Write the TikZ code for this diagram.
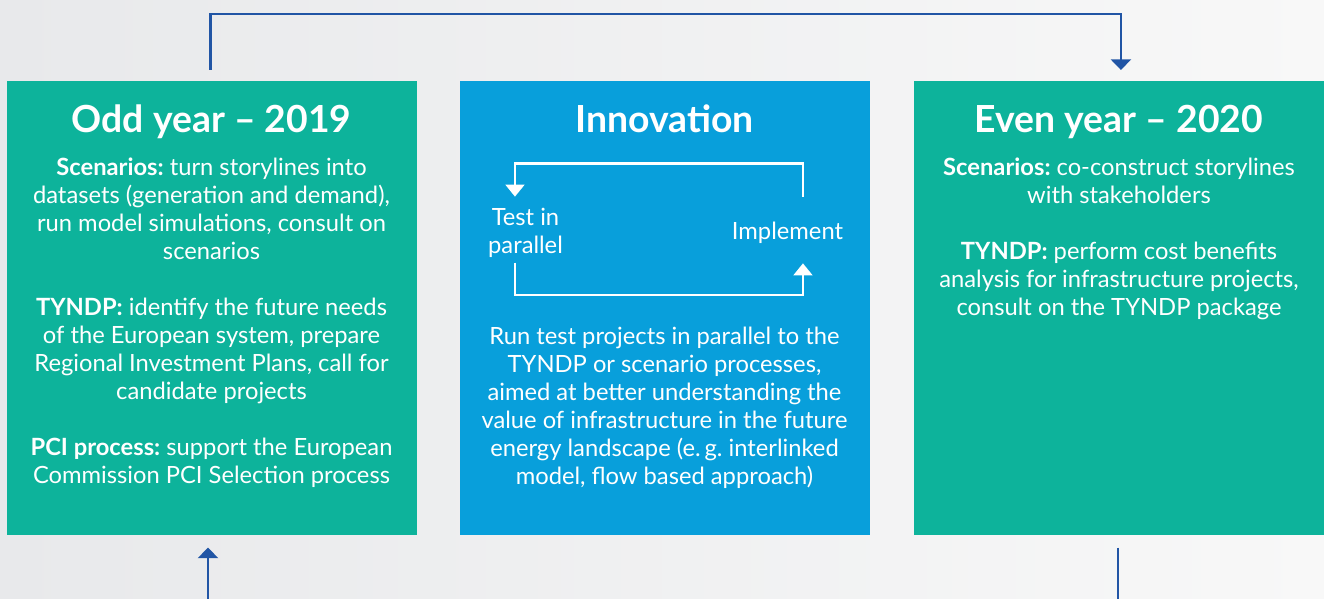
\documentclass[tikz,border=0pt]{standalone}
\usepackage{fontspec}
\setmainfont{Lato}
\frenchspacing
\usetikzlibrary{arrows.meta}
\definecolor{tealbox}{HTML}{0DB39B}
\definecolor{skybox}{HTML}{089FDB}
\definecolor{flowblue}{HTML}{2155A5}
\definecolor{bgleft}{HTML}{E8E9EB}
\definecolor{bgright}{HTML}{F8F8F8}
\begin{document}
\begin{tikzpicture}[x=0.75pt,y=-0.75pt,
  panel/.style={minimum width=307pt,minimum height=340.5pt,inner sep=0pt,anchor=north west},
  head/.style={white,anchor=base,font=\fontsize{28}{33}\selectfont\bfseries},
  body/.style={white,align=center,inner sep=0pt,anchor=north,font=\fontsize{17.8}{21}\selectfont},
  lab/.style={white,align=center,inner sep=0pt,font=\fontsize{17.8}{21}\selectfont},
  flow/.style={flowblue,line width=2pt,-{Triangle[width=15pt,length=8pt]}},
  cyc/.style={white,line width=2pt,-{Triangle[width=14pt,length=9pt]}}]
  \shade[left color=bgleft,right color=bgright] (0,0) rectangle (1324,599);
  \useasboundingbox (0,0) rectangle (1324,599);
  % the three panels
  \node[panel,fill=tealbox] (odd) at (7,81) {};
  \node[panel,fill=skybox] (inno) at (460,81) {};
  \node[panel,fill=tealbox] (even) at (914,81) {};
  \node[head] (oddhead) at (211.5,133) {Odd year – 2019};
  \node[head] (innohead) at (664.5,133) {Innovation};
  \node[head] (evenhead) at (1119,133) {Even year – 2020};
  \node[body] (oddtext) at (211.5,158) {\textbf{Scenarios:} turn storylines into\\datasets (generation and demand),\\run model simulations, consult on\\scenarios\\[21pt]\textbf{TYNDP:} identify the future needs\\of the European system, prepare\\Regional Investment Plans, call for\\candidate projects\\[21pt]\textbf{PCI process:} support the European\\Commission PCI Selection process};
  \node[body] (innotext) at (664.5,327) {Run test projects in parallel to the\\TYNDP or scenario processes,\\aimed at better understanding the\\value of infrastructure in the future\\energy landscape (e.\,g. interlinked\\model, flow based approach)};
  \node[body] (eventext) at (1119,158) {\textbf{Scenarios:} co-construct storylines\\with stakeholders\\[21pt]\textbf{TYNDP:} perform cost benefits\\analysis for infrastructure projects,\\consult on the TYNDP package};
  % innovation loop
  \node[lab,anchor=base] (impl) at (787.5,239) {Implement};
  \node[lab,anchor=north] (test) at (525.5,208) {Test in\\parallel};
  \draw[cyc,shorten <=18.5pt,shorten >=8.5pt] ([xshift=11.6pt]impl.north) -- ++(0,-57.7) -| ([xshift=-7.9pt]test.north);
  \draw[cyc,shorten <=3.5pt,shorten >=15pt] ([xshift=-7.9pt]test.south) -- ++(0,37) -| ([xshift=11.6pt]impl.south);
  % yearly cycle
  \coordinate (oddfeed) at (208,599);
  \coordinate (evenout) at (1118,599);
  \draw[flow,shorten <=8.25pt,shorten >=8.25pt] ([xshift=-1.1pt]odd.north) -- ++(0,-67) -| ([xshift=1.5pt]even.north);
  \draw[flow,shorten >=9pt] (oddfeed) -- (oddfeed |- odd.south);
  \draw[flowblue,line width=2pt,shorten <=9pt] (evenout |- even.south) -- (evenout);
\end{tikzpicture}
\end{document}
